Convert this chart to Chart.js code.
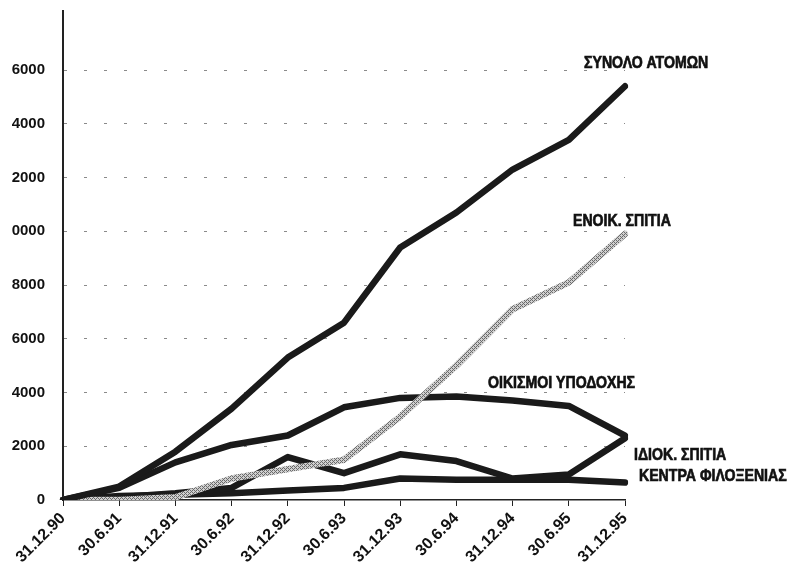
<!DOCTYPE html>
<html>
<head>
<meta charset="utf-8">
<script src="https://cdn.jsdelivr.net/npm/chart.js@4"></script>
<style>
  html, body { margin: 0; padding: 0; background: #fff; }
  #wrap { position: relative; width: 789px; height: 566px; overflow: hidden; }
  /* the scan is cut at the left edge */
  #chart { clip-path: inset(0 0 0 12px); }
</style>
</head>
<body>
<div id="wrap"><canvas id="chart" width="789" height="566"></canvas></div>
<script>
const dates = ["31.12.90", "30.6.91", "31.12.91", "30.6.92", "31.12.92", "30.6.93",
  "31.12.93", "30.6.94", "31.12.94", "30.6.95", "31.12.95"];

// persons housed, by type of housing
const totalPersons = [0, 500, 1800, 3400, 5300, 6600, 9400, 10700, 12300, 13400, 15400];
const rentedHouses = [0, 0, 100, 800, 1150, 1500, 3100, 5000, 7100, 8100, 9900];
const settlements = [0, 450, 1400, 2050, 2400, 3450, 3800, 3850, 3700, 3500, 2400];
const ownHouses = [0, 100, 250, 450, 1600, 1000, 1700, 1450, 800, 950, 2300];
const centres = [0, 150, 200, 250, 350, 450, 800, 750, 750, 750, 650];

const seriesNames = ["ΣΥΝΟΛΟ ΑΤΟΜΩΝ", "ΕΝΟΙΚ. ΣΠΙΤΙΑ", "ΟΙΚΙΣΜΟΙ ΥΠΟΔΟΧΗΣ", "ΙΔΙΟΚ. ΣΠΙΤΙΑ", "ΚΕΝΤΡΑ ΦΙΛΟΞΕΝΙΑΣ"];
const yTicks = [0, 2000, 4000, 6000, 8000, 10000, 12000, 14000, 16000];

const FONT = '"Liberation Sans", Arial, sans-serif';
const NARROW = 0.83; // the print uses a condensed face

// grey hatched stroke for the rented houses line
const hatch = (() => {
  const c = document.createElement("canvas");
  c.width = 4; c.height = 4;
  const g = c.getContext("2d");
  g.fillStyle = "#cfcfcf";
  g.fillRect(0, 0, 4, 4);
  g.fillStyle = "#6a6a6a";
  g.fillRect(0, 0, 1, 1); g.fillRect(1, 1, 1, 1); g.fillRect(2, 2, 1, 1); g.fillRect(3, 3, 1, 1);
  g.fillRect(2, 0, 1, 1); g.fillRect(0, 2, 1, 1);
  return g.createPattern(c, "repeat");
})();

// name label next to each line: [dataset index, dx, dy] from its last point
const nameSpots = [[0, -41, -23], [1, -52, -13], [2, -137, -52], [3, 9, 17], [4, 14, -6]];

const lineNames = {
  id: "lineNames",
  afterDatasetsDraw(chart) {
    const ctx = chart.ctx;
    const x = chart.scales.x, y = chart.scales.y;
    ctx.fillStyle = "#111";
    ctx.strokeStyle = "#111";
    ctx.lineWidth = 0.7;
    ctx.font = "bold 17px " + FONT;
    ctx.textBaseline = "middle";
    ctx.textAlign = "left";
    nameSpots.forEach(([i, dx, dy]) => {
      const data = chart.data.datasets[i].data;
      const last = data.length - 1;
      ctx.save();
      ctx.translate(x.getPixelForValue(last) + dx, y.getPixelForValue(data[last]) + dy);
      ctx.scale(NARROW, 1);
      ctx.fillText(seriesNames[i], 0, 0);
      ctx.strokeText(seriesNames[i], 0, 0);
      ctx.restore();
    });
  }
};

const line = (label, data, color) => ({
  label, data,
  borderColor: color,
  borderWidth: 6.5,
  pointRadius: 0,
  borderJoinStyle: "round",
  borderCapStyle: "round",
  tension: 0
});

new Chart(document.getElementById("chart"), {
  type: "line",
  data: {
    labels: dates,
    datasets: [
      line(seriesNames[0], totalPersons, "#1a1a1a"),
      line(seriesNames[1], rentedHouses, hatch),
      line(seriesNames[2], settlements, "#1a1a1a"),
      line(seriesNames[3], ownHouses, "#1a1a1a"),
      line(seriesNames[4], centres, "#1a1a1a")
    ]
  },
  options: {
    responsive: false,
    animation: false,
    layout: { padding: { top: 0, right: 164, left: 0, bottom: 0 } },
    plugins: { legend: { display: false }, tooltip: { enabled: false } },
    scales: {
      x: {
        offset: false,
        border: { display: true, color: "#222", width: 1.5 },
        grid: { drawOnChartArea: false, drawTicks: true, tickLength: 6, tickColor: "#222" },
        ticks: {
          color: "#111",
          font: { family: FONT, weight: "bold", size: 16 },
          maxRotation: 45, minRotation: 45, autoSkip: false, padding: 3
        },
        afterFit: (s) => { s.height = 66; }
      },
      y: {
        min: 0, max: 18200,
        afterBuildTicks: (s) => { s.ticks = yTicks.map((v) => ({ value: v })); },
        border: { display: true, color: "#222", width: 2, dash: [3, 17] },
        grid: {
          drawTicks: true,
          tickLength: 16,
          tickColor: "rgba(0,0,0,0)",
          color: (c) => (c.tick && c.tick.value > 0 ? "#8a8a8a" : "rgba(0,0,0,0)"),
          lineWidth: 1
        },
        ticks: {
          color: "#111",
          padding: 2,
          font: { family: FONT, weight: "bold", size: 15 },
          callback: (v) => String(v)
        },
        afterFit: (s) => { s.width = 63; }
      }
    }
  },
  plugins: [lineNames]
});
</script>
</body>
</html>
